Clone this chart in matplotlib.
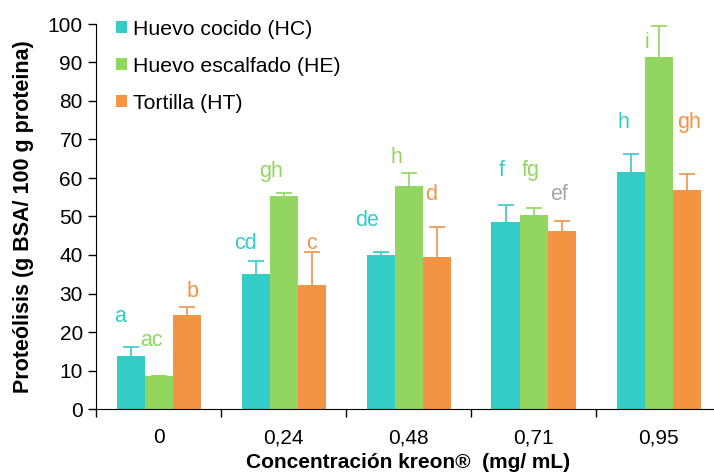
import numpy as np
import matplotlib.pyplot as plt

plt.rcParams['font.family'] = ['Liberation Sans', 'DejaVu Sans']

# data
conc = ['0', '0,24', '0,48', '0,71', '0,95']
hc = [13.8, 35.0, 40.0, 48.5, 61.5]
hc_err = [2.2, 3.5, 0.7, 4.5, 4.8]
he = [8.7, 55.2, 58.0, 50.5, 91.3]
he_err = [0.0, 0.8, 3.3, 1.8, 8.2]
ht = [24.5, 32.2, 39.5, 46.3, 57.0]
ht_err = [2.0, 8.5, 7.8, 2.5, 4.0]

# significance letters
hc_let = ['a', 'cd', 'de', 'f', 'h']
he_let = ['ac', 'gh', 'h', 'fg', 'i']
ht_let = ['b', 'c', 'd', 'ef', 'gh']
hc_let_y = [23.9, 43.1, 49.0, 62.0, 74.3]
he_let_y = [17.9, 61.6, 65.2, 62.0, 95.3]
ht_let_y = [30.4, 42.9, 55.6, 55.6, 74.3]
hc_let_dx = [-0.08, -0.08, -0.11, -0.03, -0.06]
he_let_dx = [-0.06, -0.10, -0.10, -0.02, -0.09]
ht_let_dx = [0.05, 0.0, -0.04, -0.02, 0.02]

c_hc = '#33CCC6'
c_he = '#92D660'
c_ht = '#F29444'

fig = plt.figure(figsize=(7.14, 4.73), dpi=100)
ax = fig.add_axes([96/714, 64/473, 625/714, 385/473])

x = np.arange(len(conc))
w = 0.224
series = [(hc, hc_err, c_hc, 'Huevo cocido (HC)', -w),
          (he, he_err, c_he, 'Huevo escalfado (HE)', 0),
          (ht, ht_err, c_ht, 'Tortilla (HT)', w)]
for vals, err, col, lab, off in series:
    ax.bar(x + off, vals, w, color=col, label=lab)
    ax.errorbar(x + off, vals, yerr=err, fmt='none', ecolor=col,
                elinewidth=1.2, capsize=6, capthick=1.2)

for i in range(len(conc)):
    ax.text(x[i] - w + hc_let_dx[i], hc_let_y[i], hc_let[i], color=c_hc,
            fontsize=15.5, ha='center', va='center')
    ax.text(x[i] + he_let_dx[i], he_let_y[i], he_let[i], color=c_he,
            fontsize=15.5, ha='center', va='center')
    col = '#A6A6A6' if ht_let[i] == 'ef' else c_ht
    ax.text(x[i] + w + ht_let_dx[i], ht_let_y[i], ht_let[i], color=col,
            fontsize=15.5, ha='center', va='center')

ax.set_xlim(-0.5, 4.5)
ax.set_ylim(0, 100)
ax.set_yticks(range(0, 101, 10))
ax.set_xticks(x)
ax.set_xticklabels(conc)
ax.set_xticks(np.arange(-0.5, 4.6, 1), minor=True)
ax.tick_params(axis='x', which='major', length=0, labelsize=15, pad=14)
ax.tick_params(axis='x', which='minor', length=6, width=1)
ax.tick_params(axis='y', length=6, width=1, labelsize=15)
ax.spines['top'].set_visible(False)
ax.spines['right'].set_visible(False)

ax.set_xlabel('Concentración kreon®  (mg/ mL)', fontsize=15, fontweight='bold',
              labelpad=4)
ax.set_ylabel('Proteólisis (g BSA/ 100 g proteina)', fontsize=15.5,
              fontweight='bold', labelpad=10)

ax.legend(loc='upper left', bbox_to_anchor=(0.008, 1.05), frameon=False,
          fontsize=15.3, handlelength=0.5, handleheight=0.5,
          handletextpad=0.3, labelspacing=0.85, borderaxespad=0.3)

fig.savefig('out.png', dpi=100)
